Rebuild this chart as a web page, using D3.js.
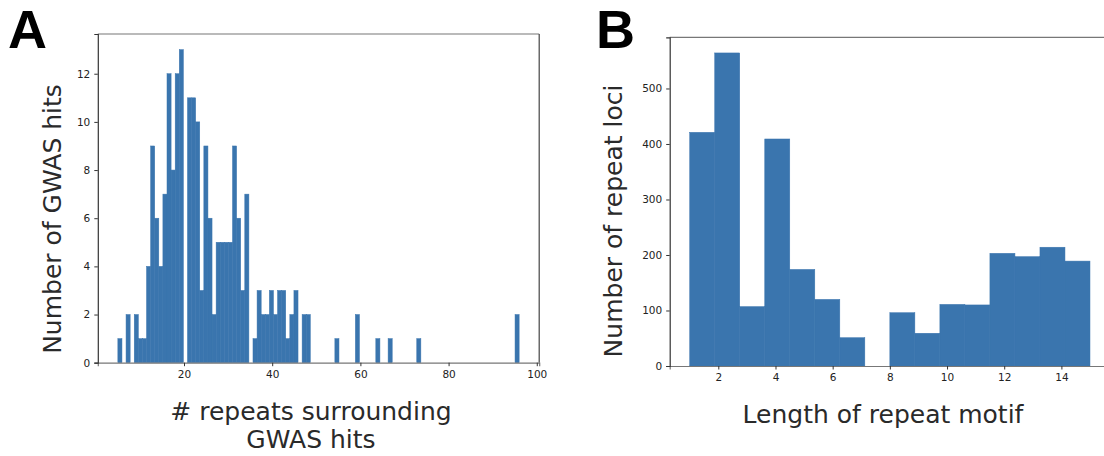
<!DOCTYPE html>
<html lang="en">
<head>
<meta charset="utf-8">
<title>Repeat histograms</title>
<script src="https://cdnjs.cloudflare.com/ajax/libs/d3/7.8.5/d3.min.js"></script>
<style>
  body { margin: 0; background: #fff; }
  svg text { font-family: "DejaVu Sans", sans-serif; }
  .tick text { font-size: 10.5px; fill: #222; }
  .tick line { stroke: #333; }
  .axis-label { font-size: 25px; fill: #2a2a2a; }
  .panel-letter { font-family: "Liberation Sans", Arial, sans-serif !important; font-weight: bold; font-size: 54px; fill: #000; }
</style>
</head>
<body>
<div id="chart"></div>
<script>
// panel A: repeats around each GWAS hit, 98 equal bins between 5 and 96
var hitMin = 5, hitMax = 96;
var hitCounts = [
  1, 0, 2, 0, 2, 1, 1, 4, 9, 6,
  4, 7, 12, 8, 12, 13, 0, 11, 11, 10,
  3, 9, 6, 2, 5, 5, 5, 5, 9, 6,
  3, 7, 0, 1, 3, 2, 2, 3, 2, 3,
  3, 1, 2, 3, 0, 2, 2, 0, 0, 0,
  0, 0, 0, 1, 0, 0, 0, 0, 2, 0,
  0, 0, 0, 1, 0, 0, 1, 0, 0, 0,
  0, 0, 0, 1, 0, 0, 0, 0, 0, 0,
  0, 0, 0, 0, 0, 0, 0, 0, 0, 0,
  0, 0, 0, 0, 0, 0, 0, 2
];
var hitXTicks = [20, 40, 60, 80, 100];
var hitYTicks = [0, 2, 4, 6, 8, 10, 12];

// panel B: repeat loci by motif length, 16 bins between 1 and 15
var motifMin = 1, motifMax = 15;
var motifCounts = [421, 564, 107, 409, 174, 120, 51, 0, 96, 59, 111, 110, 203, 197, 214, 189];
var motifXTicks = [2, 4, 6, 8, 10, 12, 14];
var motifYTicks = [0, 100, 200, 300, 400, 500];

var W = 1104, H = 456;
var barColor = "#3a75ae";

var svg = d3.select("#chart").append("svg")
  .attr("width", W).attr("height", H);

function toBins(counts, lo, hi) {
  var w = (hi - lo) / counts.length;
  return counts.map(function(c, i) {
    return { x0: lo + i * w, x1: lo + (i + 1) * w, n: c };
  });
}

function drawPanel(opt) {
  var x = d3.scaleLinear().domain(opt.xDomain).range([opt.left, opt.right]);
  var y = d3.scaleLinear().domain(opt.yDomain).range([opt.bottom, opt.top]);
  var g = svg.append("g");

  // thin same-colour stroke so neighbouring bars join without seams
  g.selectAll("rect.bar")
    .data(toBins(opt.counts, opt.lo, opt.hi).filter(function(d) { return d.n > 0; }))
    .enter().append("rect")
    .attr("class", "bar")
    .attr("x", function(d) { return x(d.x0); })
    .attr("width", function(d) { return x(d.x1) - x(d.x0); })
    .attr("y", function(d) { return y(d.n); })
    .attr("height", function(d) { return y(0) - y(d.n); })
    .attr("fill", barColor)
    .attr("stroke", barColor).attr("stroke-width", 0.5);

  // frame
  var right = Math.min(opt.right, W + 5);
  g.append("line").attr("x1", opt.left).attr("x2", right)
    .attr("y1", opt.top).attr("y2", opt.top)
    .attr("stroke", "#777").attr("stroke-width", 1.2);
  g.append("line").attr("x1", opt.right).attr("x2", opt.right)
    .attr("y1", opt.top).attr("y2", opt.bottom)
    .attr("stroke", "#444").attr("stroke-width", 1.2);

  var xa = g.append("g").attr("transform", "translate(0," + opt.bottom + ")")
    .call(d3.axisBottom(x).tickValues(opt.xTicks).tickSize(3.5).tickPadding(4).tickFormat(d3.format("d")));
  var ya = g.append("g").attr("transform", "translate(" + opt.left + ",0)")
    .call(d3.axisLeft(y).tickValues(opt.yTicks).tickSize(3.5).tickPadding(4).tickFormat(d3.format("d")));
  xa.select(".domain").attr("stroke", "#777").attr("stroke-width", 1.2);
  ya.select(".domain").attr("stroke", "#333").attr("stroke-width", 1.2);
  xa.selectAll("text").attr("font-family", null);
  ya.selectAll("text").attr("font-family", null);

  // axis titles
  opt.xLabel.forEach(function(line, i) {
    g.append("text").attr("class", "axis-label")
      .attr("x", opt.xLabelX).attr("y", opt.xLabelY + i * 28)
      .attr("text-anchor", "middle").text(line);
  });
  g.append("text").attr("class", "axis-label")
    .attr("transform", "translate(" + opt.yLabelX + "," + opt.yLabelY + ") rotate(-90)")
    .attr("text-anchor", "middle").text(opt.yLabel);

  svg.append("text").attr("class", "panel-letter")
    .attr("x", opt.letterX).attr("y", 48).text(opt.letter);
}

drawPanel({
  counts: hitCounts, lo: hitMin, hi: hitMax,
  xDomain: [0.45, 100.55], yDomain: [0, 13.65],
  left: 97.8, right: 539.2, top: 34, bottom: 362.7,
  xTicks: hitXTicks, yTicks: hitYTicks,
  xLabel: ["# repeats surrounding", "GWAS hits"], xLabelX: 311, xLabelY: 420,
  yLabel: "Number of GWAS hits", yLabelX: 61, yLabelY: 219,
  letter: "A", letterX: 8
});

drawPanel({
  counts: motifCounts, lo: motifMin, hi: motifMax,
  xDomain: [0.3, 15.7], yDomain: [0, 592.2],
  left: 669.7, right: 1110, top: 37.3, bottom: 366,
  xTicks: motifXTicks, yTicks: motifYTicks,
  xLabel: ["Length of repeat motif"], xLabelX: 883, xLabelY: 423,
  yLabel: "Number of repeat loci", yLabelX: 622, yLabelY: 221,
  letter: "B", letterX: 596
});
</script>
</body>
</html>
